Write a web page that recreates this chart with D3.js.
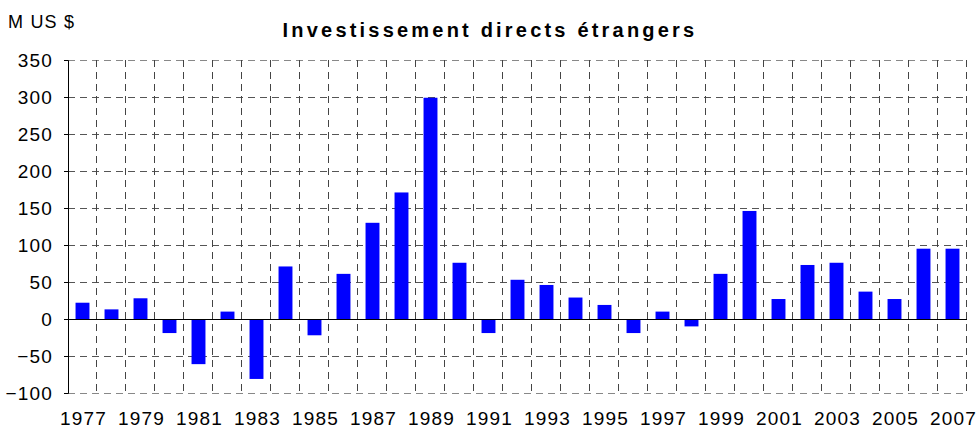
<!DOCTYPE html>
<html>
<head>
<meta charset="utf-8">
<script src="https://cdn.jsdelivr.net/npm/d3@7"></script>
<style>
  body { margin: 0; background: #fff; }
  text { font-family: "Liberation Sans", Arial, sans-serif; fill: #000; }
</style>
</head>
<body>
<div id="main"></div>
<script>
// data
const years = d3.range(1977, 2008).map(String);
const values = [22, 13, 28, -19, -61, 10, -81, 71, -22, 61,
  130, 171, 299, 76, -19, 53, 46, 29, 19, -19,
  10, -10, 61, 146, 27, 73, 76, 37, 27, 95, 95];
const yTicks = [-100, -50, 0, 50, 100, 150, 200, 250, 300, 350];
const xLabelYears = years.filter(y => +y % 2 === 1);

// layout
const svgWidth = 976;
const svgHeight = 429;
const margin = { t: 60, r: 9, b: 36, l: 68 };
const width = svgWidth - margin.l - margin.r;
const height = svgHeight - margin.t - margin.b;

const svg = d3.select('#main')
  .append('svg')
  .attr('width', svgWidth)
  .attr('height', svgHeight);

const x = d3.scaleBand()
  .domain(years)
  .range([0, width])
  .paddingInner(0.52)
  .paddingOuter(0.26);

const y = d3.scaleLinear()
  .domain([-100, 350])
  .range([height, 0]);

const plot = svg.append('g')
  .attr('transform', `translate(${margin.l},${margin.t})`);

// horizontal grid
plot.append('g')
  .selectAll('line')
  .data(yTicks)
  .enter().append('line')
  .attr('x1', 0)
  .attr('x2', width)
  .attr('y1', d => Math.round(y(d)) + 0.5)
  .attr('y2', d => Math.round(y(d)) + 0.5)
  .attr('stroke', d => (d === -100 || d === 350) ? '#888' : '#555')
  .attr('stroke-dasharray', '7,5');

// vertical grid at category boundaries
const step = width / years.length;
plot.append('g')
  .selectAll('line')
  .data(d3.range(1, years.length + 1))
  .enter().append('line')
  .attr('x1', i => Math.round(i * step) - 0.5)
  .attr('x2', i => Math.round(i * step) - 0.5)
  .attr('y1', 0)
  .attr('y2', height)
  .attr('stroke', '#444')
  .attr('stroke-dasharray', '7,5');

// bars
plot.append('g')
  .selectAll('rect')
  .data(values)
  .enter().append('rect')
  .attr('x', (d, i) => x(years[i]))
  .attr('width', x.bandwidth())
  .attr('y', d => y(Math.max(0, d)))
  .attr('height', d => Math.abs(y(d) - y(0)))
  .attr('fill', '#0000ff');

// zero line
plot.append('line')
  .attr('x1', 0)
  .attr('x2', width)
  .attr('y1', Math.round(y(0)) + 0.5)
  .attr('y2', Math.round(y(0)) + 0.5)
  .attr('stroke', '#000')
  .attr('stroke-width', 1.2);

// y axis
const yAxis = d3.axisLeft(y)
  .tickValues(yTicks)
  .tickSize(4)
  .tickPadding(11);

const gY = plot.append('g')
  .call(yAxis);
gY.select('.domain').attr('stroke', '#000');
gY.selectAll('text')
  .style('font-size', '19px')
  .style('letter-spacing', '1.2px')
  .style('font-family', '"Liberation Sans", Arial, sans-serif');

// x labels
plot.append('g')
  .selectAll('text')
  .data(xLabelYears)
  .enter().append('text')
  .attr('x', d => x(d) + x.bandwidth() / 2 + 1)
  .attr('y', height + 32)
  .attr('text-anchor', 'middle')
  .style('font-size', '19px')
  .style('letter-spacing', '1.2px')
  .text(d => d);

// title + unit
svg.append('text')
  .attr('x', 490)
  .attr('y', 37)
  .attr('text-anchor', 'middle')
  .style('font-size', '20px')
  .style('font-weight', 'bold')
  .style('letter-spacing', '3.2px')
  .text('Investissement directs étrangers');

svg.append('text')
  .attr('x', 8)
  .attr('y', 28)
  .style('font-size', '18px')
  .style('letter-spacing', '1.2px')
  .text('M US $');
</script>
</body>
</html>
